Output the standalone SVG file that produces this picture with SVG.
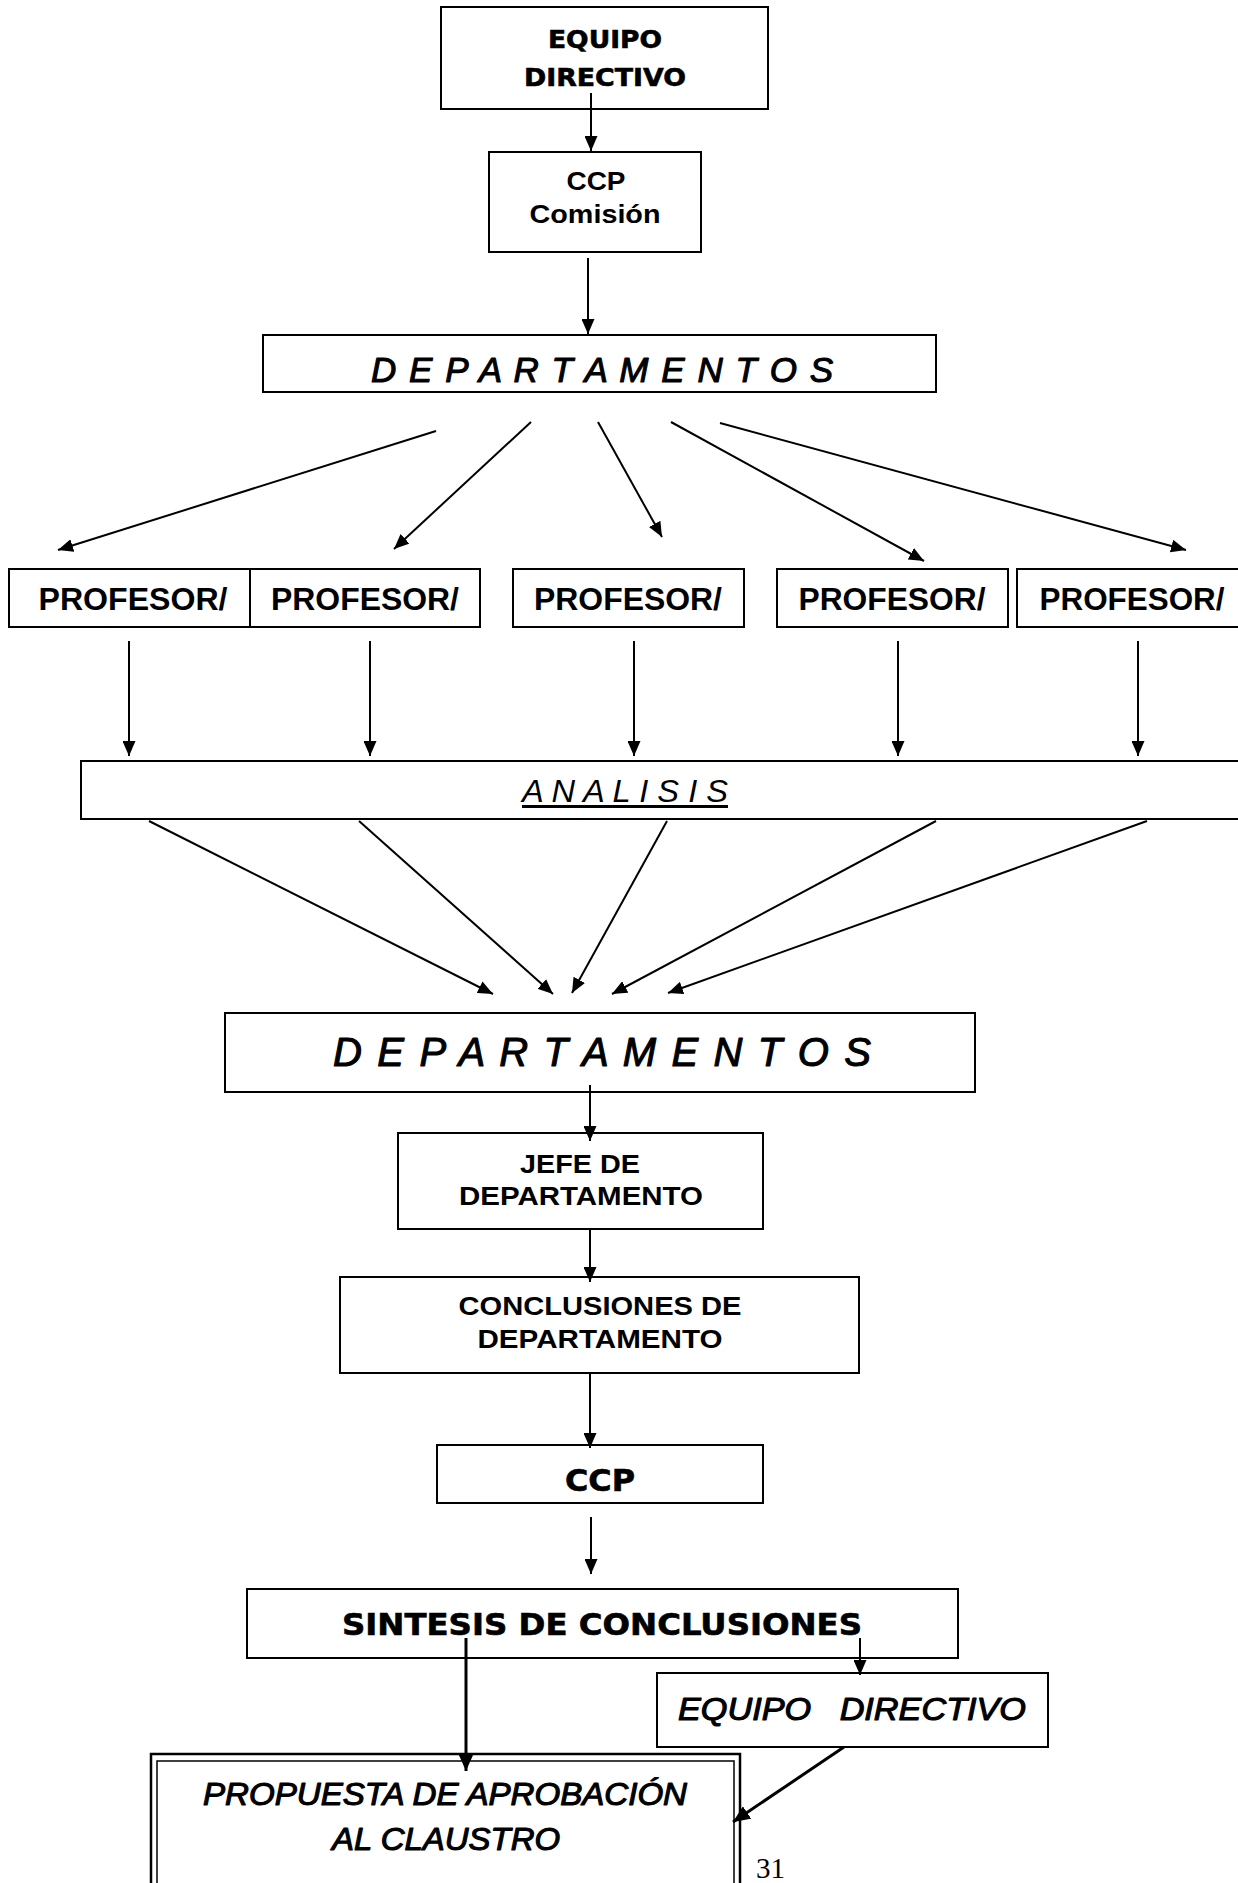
<svg xmlns="http://www.w3.org/2000/svg" width="1238" height="1883" viewBox="0 0 1238 1883">
<style>
.box{fill:#fff;stroke:#000;stroke-width:2}
.con{stroke:#000;stroke-width:2;fill:none;marker-end:url(#ah)}
.conL{stroke:#000;stroke-width:3;fill:none;marker-end:url(#ahL)}
.heavy{font-family:"DejaVu Sans","Liberation Sans",sans-serif;font-weight:bold;text-anchor:middle;fill:#000;stroke:#000;stroke-width:0.6}
.bold{font-family:"Liberation Sans",Arial,sans-serif;font-weight:bold;text-anchor:middle;fill:#000}
.ital{font-family:"Liberation Sans",Arial,sans-serif;font-style:italic;text-anchor:middle;fill:#000}
.comic{font-family:"Liberation Sans",Arial,sans-serif;font-style:italic;text-anchor:middle;fill:#000;stroke:#000;stroke-width:1.1;stroke-linejoin:round}
.serif{font-family:"Liberation Serif","Times New Roman",serif;fill:#000}
</style>
<defs>
<marker id="ah" viewBox="0 0 15 13" refX="15" refY="6.5" markerWidth="15" markerHeight="13" markerUnits="userSpaceOnUse" orient="auto"><path d="M0,0 L15,6.5 L0,13 z" fill="#000"/></marker>
<marker id="ahL" viewBox="0 0 17 15" refX="17" refY="7.5" markerWidth="17" markerHeight="15" markerUnits="userSpaceOnUse" orient="auto"><path d="M0,0 L17,7.5 L0,15 z" fill="#000"/></marker>
</defs>
<rect width="1238" height="1883" fill="#fff"/>

<g id="n-equipo-directivo">
<rect class="box" x="441" y="7" width="327" height="102"/>
<text class="heavy" x="605" y="48" font-size="25" textLength="114" lengthAdjust="spacingAndGlyphs">EQUIPO</text>
<text class="heavy" x="605" y="86" font-size="25" textLength="162" lengthAdjust="spacingAndGlyphs">DIRECTIVO</text>
</g>

<g id="n-ccp-comision">
<rect class="box" x="489" y="152" width="212" height="100"/>
<text class="bold" x="596" y="190" font-size="26" textLength="59" lengthAdjust="spacingAndGlyphs">CCP</text>
<text class="bold" x="595" y="223" font-size="26" textLength="131" lengthAdjust="spacingAndGlyphs">Comisión</text>
</g>

<g id="n-departamentos-1">
<rect class="box" x="263" y="335" width="673" height="57"/>
<text class="comic" x="602" y="382" font-size="35" textLength="462" lengthAdjust="spacing">D E P A R T A M E N T O S</text>
</g>

<g id="n-profesor-1">
<rect class="box" x="9" y="569" width="241" height="58"/>
<text class="bold" x="133" y="610" font-size="31" textLength="189" lengthAdjust="spacingAndGlyphs">PROFESOR/</text>
</g>
<g id="n-profesor-2">
<rect class="box" x="250" y="569" width="230" height="58"/>
<text class="bold" x="365" y="610" font-size="31" textLength="188" lengthAdjust="spacingAndGlyphs">PROFESOR/</text>
</g>
<g id="n-profesor-3">
<rect class="box" x="513" y="569" width="231" height="58"/>
<text class="bold" x="628" y="610" font-size="31" textLength="188" lengthAdjust="spacingAndGlyphs">PROFESOR/</text>
</g>
<g id="n-profesor-4">
<rect class="box" x="777" y="569" width="231" height="58"/>
<text class="bold" x="892" y="610" font-size="31" textLength="187" lengthAdjust="spacingAndGlyphs">PROFESOR/</text>
</g>
<g id="n-profesor-5">
<rect class="box" x="1017" y="569" width="225" height="58"/>
<text class="bold" x="1132" y="610" font-size="31" textLength="185" lengthAdjust="spacingAndGlyphs">PROFESOR/</text>
</g>

<g id="n-analisis">
<rect class="box" x="81" y="761" width="1161" height="58"/>
<text class="ital" x="625" y="802" font-size="32" textLength="206" lengthAdjust="spacingAndGlyphs">A N A L I S I S</text>
<rect x="522" y="805" width="206" height="3" fill="#000"/>
</g>

<g id="n-departamentos-2">
<rect class="box" x="225" y="1013" width="750" height="79"/>
<text class="comic" x="602" y="1066" font-size="40" textLength="538" lengthAdjust="spacing">D E P A R T A M E N T O S</text>
</g>

<g id="n-jefe">
<rect class="box" x="398" y="1133" width="365" height="96"/>
<text class="bold" x="580" y="1173" font-size="25" textLength="120" lengthAdjust="spacingAndGlyphs">JEFE DE</text>
<text class="bold" x="581" y="1205" font-size="25" textLength="244" lengthAdjust="spacingAndGlyphs">DEPARTAMENTO</text>
</g>

<g id="n-conclusiones">
<rect class="box" x="340" y="1277" width="519" height="96"/>
<text class="bold" x="600" y="1315" font-size="25" textLength="283" lengthAdjust="spacingAndGlyphs">CONCLUSIONES DE</text>
<text class="bold" x="600" y="1348" font-size="25" textLength="245" lengthAdjust="spacingAndGlyphs">DEPARTAMENTO</text>
</g>

<g id="n-ccp">
<rect class="box" x="437" y="1445" width="326" height="58"/>
<text class="heavy" x="600" y="1491" font-size="31" textLength="70" lengthAdjust="spacingAndGlyphs">CCP</text>
</g>

<g id="n-sintesis">
<rect class="box" x="247" y="1589" width="711" height="69"/>
<text class="heavy" x="602" y="1635" font-size="30" textLength="520" lengthAdjust="spacingAndGlyphs">SINTESIS DE CONCLUSIONES</text>
</g>

<g id="n-equipo-directivo-2">
<rect class="box" x="657" y="1673" width="391" height="74"/>
<text class="comic" x="852" y="1720" font-size="31" textLength="348" lengthAdjust="spacingAndGlyphs" xml:space="preserve">EQUIPO   DIRECTIVO</text>
</g>

<g id="n-propuesta">
<rect x="151" y="1754" width="589" height="140" fill="#fff" stroke="#000" stroke-width="2.5"/>
<rect x="157" y="1761" width="577" height="130" fill="none" stroke="#000" stroke-width="1.5"/>
<text class="comic" x="445" y="1805" font-size="31" textLength="484" lengthAdjust="spacingAndGlyphs">PROPUESTA DE APROBACIÓN</text>
<text class="comic" x="446" y="1850" font-size="31" textLength="228" lengthAdjust="spacingAndGlyphs">AL CLAUSTRO</text>
</g>

<g id="connectors">
<line class="con" x1="591" y1="93" x2="591" y2="151"/>
<line class="con" x1="588" y1="258" x2="588" y2="334"/>
<line class="con" x1="436" y1="431" x2="58" y2="550"/>
<line class="con" x1="531" y1="422" x2="394" y2="549"/>
<line class="con" x1="598" y1="422" x2="662" y2="537"/>
<line class="con" x1="671" y1="422" x2="924" y2="561"/>
<line class="con" x1="720" y1="423" x2="1186" y2="550"/>
<line class="con" x1="129" y1="641" x2="129" y2="756"/>
<line class="con" x1="370" y1="641" x2="370" y2="756"/>
<line class="con" x1="634" y1="641" x2="634" y2="756"/>
<line class="con" x1="898" y1="641" x2="898" y2="756"/>
<line class="con" x1="1138" y1="641" x2="1138" y2="756"/>
<line class="con" x1="149" y1="821" x2="493" y2="994"/>
<line class="con" x1="359" y1="821" x2="553" y2="994"/>
<line class="con" x1="667" y1="821" x2="572" y2="993"/>
<line class="con" x1="936" y1="821" x2="612" y2="994"/>
<line class="con" x1="1147" y1="821" x2="668" y2="993"/>
<line class="con" x1="590" y1="1085" x2="590" y2="1141"/>
<line class="con" x1="590" y1="1229" x2="590" y2="1282"/>
<line class="con" x1="590" y1="1373" x2="590" y2="1448"/>
<line class="con" x1="591" y1="1517" x2="591" y2="1574"/>
<line class="conL" x1="466" y1="1638" x2="466" y2="1771"/>
<line class="con" x1="860" y1="1638" x2="860" y2="1675"/>
<line class="conL" x1="844" y1="1747" x2="733" y2="1822"/>
</g>

<text class="serif" x="756" y="1878" font-size="29">31</text>
</svg>
